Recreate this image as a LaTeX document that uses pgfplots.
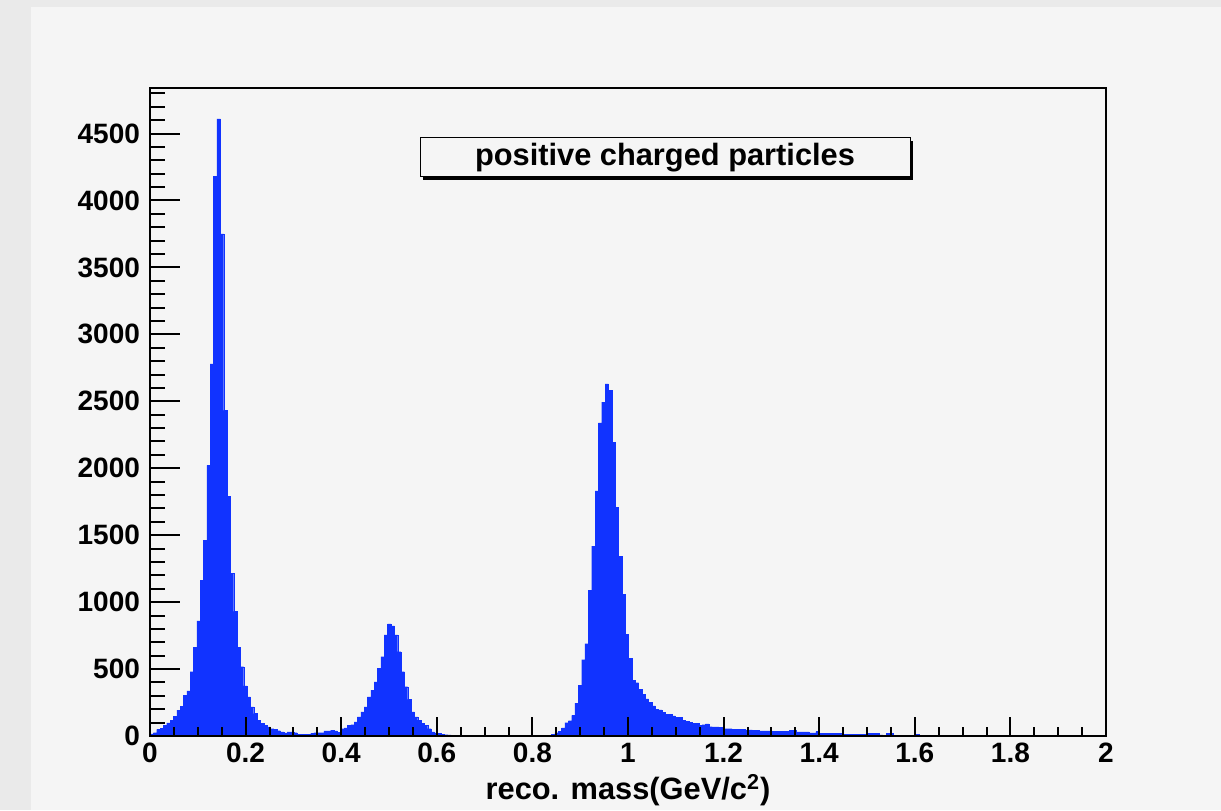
\documentclass[border=0pt]{standalone}
\usepackage{fontspec}
\setmainfont{Liberation Sans}
\usepackage{pgfplots}
\pgfplotsset{compat=1.18}
\definecolor{histblue}{RGB}{17,51,255}
\definecolor{panel}{RGB}{245,245,245}
\definecolor{outerbg}{RGB}{234,234,234}
\begin{document}
\begin{tikzpicture}
\useasboundingbox (0,0) rectangle (610.5pt,405pt);
\fill[outerbg] (0,0) rectangle (610.5pt,405pt);
\fill[panel] (15.5pt,0) rectangle (610.5pt,401.5pt);
\begin{axis}[
  at={(75pt,37pt)}, anchor=south west,
  scale only axis, width=478pt, height=324pt,
  xmin=0, xmax=2, ymin=0, ymax=4840,
  axis on top,
  axis line style={line width=0.9pt, black},
  xtick={0,0.2,0.4,0.6,0.8,1,1.2,1.4,1.6,1.8,2},
  xticklabels={0,0.2,0.4,0.6,0.8,1,1.2,1.4,1.6,1.8,2},
  minor xtick={0.05,0.1,0.15,0.25,0.3,0.35,0.45,0.5,0.55,0.65,0.7,0.75,0.85,0.9,0.95,1.05,1.1,1.15,1.25,1.3,1.35,1.45,1.5,1.55,1.65,1.7,1.75,1.85,1.9,1.95},
  ytick=\empty,
  tick align=inside,
  xtick pos=left,
  major tick length=9.5pt, minor tick length=4.75pt,
  every tick/.style={black, line width=1pt},
  xticklabel style={font=\bfseries\fontsize{14}{14}\selectfont},
  xlabel={reco. mass(GeV/c\textsuperscript{2})},
  xlabel style={font=\bfseries\fontsize{15.4}{15.4}\selectfont, at={(axis description cs:0.5,0)}, anchor=center, yshift=-27pt},
]
\addplot[const plot, fill=histblue, draw=histblue, line width=0.1pt] table {
x y
0.000 15
0.007 25
0.014 50
0.021 58
0.028 80
0.035 98
0.042 118
0.049 148
0.056 193
0.063 223
0.070 305
0.077 338
0.084 480
0.091 663
0.098 860
0.105 1163
0.112 1460
0.119 2022
0.126 2779
0.133 4180
0.140 4610
0.147 3751
0.154 2432
0.161 1791
0.168 1216
0.175 930
0.182 663
0.189 518
0.196 375
0.203 293
0.210 218
0.217 168
0.224 118
0.231 93
0.238 80
0.245 68
0.252 55
0.259 48
0.266 40
0.273 30
0.280 23
0.287 30
0.294 30
0.301 25
0.308 13
0.315 13
0.322 13
0.329 13
0.336 20
0.343 25
0.350 25
0.357 25
0.364 38
0.371 38
0.378 43
0.385 38
0.392 28
0.399 55
0.406 60
0.413 80
0.420 85
0.427 105
0.434 143
0.441 180
0.448 218
0.455 293
0.462 343
0.469 405
0.476 505
0.483 593
0.490 755
0.497 838
0.504 823
0.511 755
0.518 630
0.525 480
0.532 368
0.539 273
0.546 180
0.553 143
0.560 118
0.567 93
0.574 80
0.581 55
0.588 30
0.595 23
0.602 20
0.609 13
0.616 10
0.623 8
0.630 0
0.833 5
0.840 13
0.847 25
0.854 35
0.861 60
0.868 100
0.875 115
0.882 155
0.889 245
0.896 378
0.903 570
0.910 690
0.917 1088
0.924 1418
0.931 1831
0.938 2338
0.945 2493
0.952 2631
0.959 2581
0.966 2193
0.973 1706
0.980 1343
0.987 1060
0.994 760
1.001 580
1.008 418
1.015 398
1.022 350
1.029 312
1.036 277
1.043 250
1.050 225
1.057 200
1.064 195
1.071 175
1.078 162
1.085 160
1.092 150
1.099 140
1.106 140
1.113 118
1.120 112
1.127 103
1.134 95
1.141 93
1.148 80
1.155 85
1.162 90
1.169 70
1.176 68
1.183 68
1.190 65
1.197 55
1.204 55
1.211 55
1.218 52
1.225 48
1.232 48
1.239 48
1.246 46
1.253 45
1.260 43
1.267 43
1.274 38
1.281 38
1.288 38
1.295 38
1.302 35
1.309 35
1.316 35
1.323 35
1.330 35
1.337 43
1.344 42
1.351 30
1.358 30
1.365 30
1.372 30
1.379 23
1.386 23
1.393 33
1.400 18
1.407 18
1.414 18
1.421 18
1.428 18
1.435 18
1.442 18
1.449 13
1.456 13
1.463 13
1.470 13
1.477 13
1.484 13
1.491 13
1.498 18
1.505 18
1.512 18
1.519 18
1.526 8
1.533 3
1.540 18
1.547 18
1.554 0
1.603 12
1.610 0
2.000 0
} \closedcycle;
\end{axis}
\begin{axis}[
  at={(75pt,37pt)}, anchor=south west,
  scale only axis, width=478pt, height=324pt,
  xmin=0, xmax=2, ymin=0, ymax=4840,
  axis line style={draw=none},
  xtick=\empty,
  ytick={0,500,1000,1500,2000,2500,3000,3500,4000,4500},
  yticklabels={0,500,1000,1500,2000,2500,3000,3500,4000,4500},
  minor ytick={100,200,300,400,600,700,800,900,1100,1200,1300,1400,1600,1700,1800,1900,2100,2200,2300,2400,2600,2700,2800,2900,3100,3200,3300,3400,3600,3700,3800,3900,4100,4200,4300,4400,4600,4700,4800},
  tick align=inside,
  ytick pos=left,
  major tick length=15pt, minor tick length=7.5pt,
  every tick/.style={black, line width=1pt},
  yticklabel style={font=\bfseries\fontsize{14}{14}\selectfont, xshift=-1.5pt},
]
\end{axis}
\fill[black] (211.5pt,315pt) rectangle (456.5pt,334.5pt);
\filldraw[fill=panel, draw=black, line width=0.5pt] (210pt,316.5pt) rectangle (455pt,336pt);
\node[font=\bfseries\fontsize{15.4}{15.4}\selectfont] at (332.5pt,326.2pt) {positive charged particles};
\end{tikzpicture}
\end{document}
